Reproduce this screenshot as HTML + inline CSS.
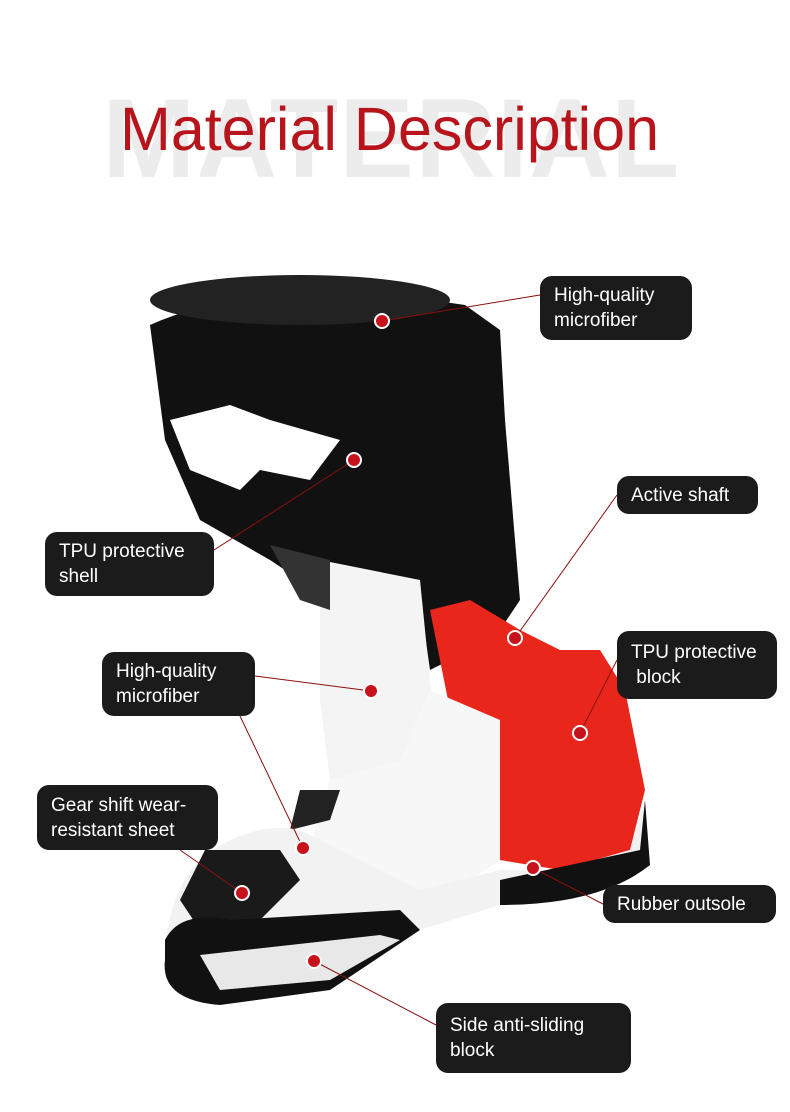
<!DOCTYPE html>
<html><head><meta charset="utf-8"><style>
body{margin:0;width:790px;height:1112px;background:#fff;position:relative;overflow:hidden;font-family:"Liberation Sans",sans-serif}
.bg{position:absolute;left:102px;top:74px;font-size:112px;font-weight:bold;color:#ececec;letter-spacing:1px}
.t{position:absolute;left:120px;top:94px;font-size:61px;color:#b8141c}
.b{position:absolute;background:#1b1b1b;color:#fff;border-radius:12px;font-size:19px;line-height:25px;padding:7px 14px;box-sizing:border-box;display:flex;align-items:center}
svg{position:absolute;left:0;top:0}
</style></head><body>
<div class="bg">MATERIAL</div>
<div class="t">Material Description</div>
<svg width="790" height="1112">
<path d="M150,325 Q250,280 430,300 L465,305 L500,330 L505,420 L520,600 L500,630 L470,650 L430,670 L420,600 L330,600 L270,560 L200,520 L165,440 Z" fill="#111"/>
<ellipse cx="300" cy="300" rx="150" ry="25" fill="#222"/>
<path d="M320,560 L420,580 L430,680 L440,760 L330,780 L320,700 Z" fill="#f4f4f4"/>
<path d="M270,545 L330,560 L330,610 L300,600 Z" fill="#333"/>
<path d="M430,610 L470,600 L520,630 L560,650 L600,650 L625,690 L645,790 L630,850 L560,870 L500,860 L490,780 L450,710 Z" fill="#e8261c"/>
<path d="M430,690 L500,720 L500,860 L470,880 L400,900 L300,880 L330,780 L400,760 Z" fill="#f7f7f7"/>
<path d="M300,790 L340,790 L330,820 L290,830 Z" fill="#222"/>
<path d="M200,860 Q250,820 300,830 L420,890 L500,870 L560,870 L630,850 L645,800 L640,860 Q600,900 500,905 L420,930 L330,990 L220,1005 Q160,1000 165,950 Q170,890 200,860 Z" fill="#f2f2f2"/>
<path d="M205,850 L280,850 L300,880 L260,920 L200,930 L180,900 Z" fill="#1a1a1a"/>
<path d="M165,940 Q180,910 230,920 L400,910 L420,930 L330,990 L220,1005 Q160,1000 165,960 Z" fill="#111"/>
<path d="M200,955 L380,935 L400,940 L330,980 L220,990 Z" fill="#e8e8e8"/>
<path d="M500,880 L640,850 L645,800 L650,865 Q600,905 500,905 Z" fill="#111"/>
<path d="M170,420 L230,405 L270,420 L340,440 L310,480 L260,470 L240,490 L190,470 Z" fill="#fff"/>
<g stroke="#8a1010" stroke-width="1" fill="none">
<line x1="382" y1="321" x2="540" y2="295"/>
<line x1="354" y1="460" x2="214" y2="550"/>
<line x1="515" y1="638" x2="617" y2="495"/>
<line x1="580" y1="733" x2="617" y2="660"/>
<line x1="371" y1="691" x2="255" y2="676"/>
<line x1="303" y1="848" x2="240" y2="716"/>
<line x1="242" y1="893" x2="180" y2="850"/>
<line x1="533" y1="868" x2="603" y2="904"/>
<line x1="314" y1="961" x2="436" y2="1025"/>
</g>
<g fill="#c8121b" stroke="#fff" stroke-width="2">
<circle cx="382" cy="321" r="7"/><circle cx="354" cy="460" r="7"/><circle cx="515" cy="638" r="7"/>
<circle cx="580" cy="733" r="7"/><circle cx="371" cy="691" r="7"/><circle cx="303" cy="848" r="7"/>
<circle cx="242" cy="893" r="7"/><circle cx="533" cy="868" r="7"/><circle cx="314" cy="961" r="7"/>
</g>
</svg>
<div class="b" style="left:540px;top:276px;width:152px;height:64px">High-quality<br>microfiber</div>
<div class="b" style="left:617px;top:476px;width:141px;height:38px">Active shaft</div>
<div class="b" style="left:45px;top:532px;width:169px;height:64px">TPU protective<br>shell</div>
<div class="b" style="left:617px;top:631px;width:160px;height:68px">TPU protective<br>&nbsp;block</div>
<div class="b" style="left:102px;top:652px;width:153px;height:64px">High-quality<br>microfiber</div>
<div class="b" style="left:37px;top:785px;width:181px;height:65px">Gear shift wear-<br>resistant sheet</div>
<div class="b" style="left:603px;top:885px;width:173px;height:38px">Rubber outsole</div>
<div class="b" style="left:436px;top:1003px;width:195px;height:70px">Side anti-sliding<br>block</div>
</body></html>
